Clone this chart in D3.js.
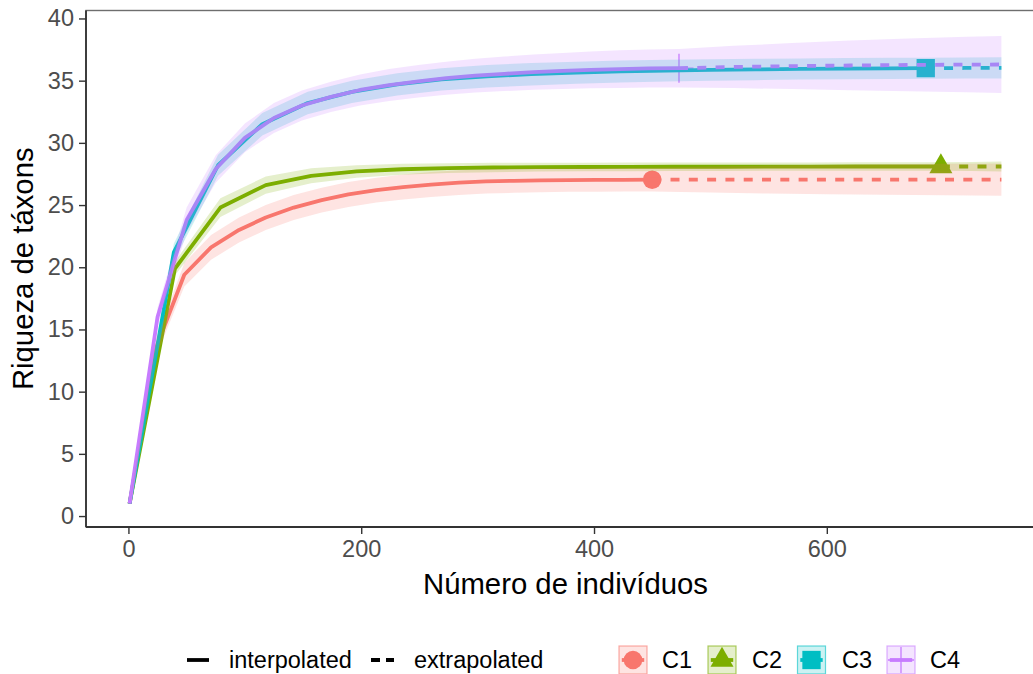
<!DOCTYPE html>
<html>
<head>
<meta charset="utf-8">
<script src="https://cdn.jsdelivr.net/npm/d3@7"></script>
<style>
  html, body { margin: 0; padding: 0; background: #fff; }
  svg { display: block; font-family: "Liberation Sans", Arial, sans-serif; }
</style>
</head>
<body>
<svg id="chart" width="1033" height="674"></svg>
<script>
// Rarefaction / extrapolation curves of taxon richness per site
const sites = ["C1", "C2", "C3", "C4"];
const sampleSize = [450, 698, 685, 473];
const observedRichness = [27.04, 28.1, 36.0, 36.0];

const c1Size     = [1, 24, 48, 71, 95, 118, 142, 166, 189, 213, 236, 260, 284, 307, 331, 354, 378, 402, 425, 450, 500, 550, 600, 650, 700, 750];
const c1Richness = [1, 13.6, 19.4, 21.6, 23.0, 24.0, 24.8, 25.4, 25.85, 26.2, 26.45, 26.65, 26.8, 26.9, 26.95, 26.99, 27.01, 27.02, 27.03, 27.04, 27.05, 27.05, 27.05, 27.05, 27.05, 27.05];
const c1Lower    = [1, 12.9, 18.45, 20.6, 22.0, 23.0, 23.8, 24.4, 24.85, 25.2, 25.45, 25.65, 25.8, 25.92, 25.98, 26.03, 26.06, 26.07, 26.08, 26.09, 26.0, 25.93, 25.87, 25.82, 25.78, 25.75];
const c1Upper    = [1, 14.3, 20.35, 22.6, 24.0, 25.0, 25.8, 26.4, 26.85, 27.2, 27.45, 27.65, 27.8, 27.88, 27.92, 27.95, 27.96, 27.97, 27.98, 27.99, 28.1, 28.17, 28.23, 28.28, 28.32, 28.35];

const c2Size     = [1, 40, 79, 118, 157, 196, 235, 274, 313, 352, 391, 430, 469, 508, 547, 586, 625, 664, 698, 724, 750];
const c2Richness = [1, 19.9, 24.8, 26.6, 27.35, 27.7, 27.88, 27.97, 28.02, 28.05, 28.06, 28.07, 28.08, 28.08, 28.09, 28.09, 28.1, 28.1, 28.1, 28.1, 28.1];
const c2Lower    = [1, 19.35, 24.05, 25.9, 26.75, 27.2, 27.43, 27.57, 27.64, 27.69, 27.71, 27.72, 27.74, 27.74, 27.75, 27.75, 27.76, 27.76, 27.76, 27.73, 27.7];
const c2Upper    = [1, 20.45, 25.55, 27.3, 27.95, 28.2, 28.33, 28.37, 28.4, 28.41, 28.41, 28.42, 28.42, 28.42, 28.43, 28.43, 28.44, 28.44, 28.44, 28.47, 28.5];

const c3Size     = [1, 39, 77, 115, 154, 192, 231, 269, 308, 346, 385, 423, 462, 500, 539, 577, 616, 654, 685, 718, 750];
const c3Richness = [1, 21.2, 28.2, 31.5, 33.2, 34.1, 34.7, 35.1, 35.35, 35.52, 35.64, 35.74, 35.81, 35.86, 35.9, 35.94, 35.97, 35.99, 36.0, 36.02, 36.03];
const c3Lower    = [1, 20.5, 27.35, 30.6, 32.3, 33.2, 33.8, 34.2, 34.45, 34.62, 34.76, 34.86, 34.94, 35.0, 35.04, 35.09, 35.12, 35.14, 35.15, 35.17, 35.18];
const c3Upper    = [1, 21.9, 29.05, 32.4, 34.1, 35.0, 35.6, 36.0, 36.25, 36.42, 36.52, 36.62, 36.68, 36.72, 36.76, 36.79, 36.82, 36.84, 36.85, 36.87, 36.88];

const c4Size     = [1, 25, 50, 75, 100, 125, 149, 174, 199, 224, 249, 273, 298, 323, 348, 373, 397, 422, 447, 473, 520, 570, 620, 670, 720, 750];
const c4Richness = [1, 16.0, 23.8, 27.9, 30.4, 32.0, 33.0, 33.7, 34.25, 34.65, 34.95, 35.2, 35.4, 35.55, 35.68, 35.78, 35.86, 35.93, 35.98, 36.0, 36.1, 36.17, 36.22, 36.26, 36.29, 36.3];
const c4Lower    = [1, 15.25, 22.8, 26.8, 29.25, 30.8, 31.8, 32.48, 33.0, 33.37, 33.65, 33.87, 34.04, 34.16, 34.26, 34.33, 34.38, 34.42, 34.45, 34.45, 34.4, 34.32, 34.22, 34.14, 34.06, 34.0];
const c4Upper    = [1, 16.75, 24.8, 29.0, 31.55, 33.2, 34.2, 34.92, 35.5, 35.93, 36.25, 36.53, 36.76, 36.94, 37.1, 37.23, 37.34, 37.44, 37.51, 37.55, 37.8, 38.02, 38.22, 38.38, 38.52, 38.6];

const xTicks = [0, 200, 400, 600];
const yTicks = [0, 5, 10, 15, 20, 25, 30, 35, 40];
const methodLabels = ["interpolated", "extrapolated"];
const xTitle = "Número de indivíduos";
const yTitle = "Riqueza de táxons";

const palette = ["#F8766D", "#7CAE00", "#00BFC4", "#C77CFF"];
const shapes = ["circle", "triangle", "square", "plus"];

const seriesTable = [
  [c1Size, c1Richness, c1Lower, c1Upper],
  [c2Size, c2Richness, c2Lower, c2Upper],
  [c3Size, c3Richness, c3Lower, c3Upper],
  [c4Size, c4Richness, c4Lower, c4Upper]
].map(([m, q, lo, hi], i) => ({
  site: sites[i],
  n: sampleSize[i],
  obs: observedRichness[i],
  color: palette[i],
  shape: shapes[i],
  points: m.map((v, k) => ({ m: v, q: q[k], lo: lo[k], hi: hi[k] }))
}));

const svg = d3.select("#chart");
const panel = { left: 86, right: 1045, top: 10.5, bottom: 527 };

const x = d3.scaleLinear().domain([-36.45, 787.45]).range([panel.left, panel.right]);
const y = d3.scaleLinear().domain([-0.88, 40.64]).range([panel.bottom, panel.top]);

svg.append("defs").append("clipPath").attr("id", "panelClip")
  .append("rect")
  .attr("x", panel.left).attr("y", panel.top)
  .attr("width", panel.right - panel.left).attr("height", panel.bottom - panel.top);

const plot = svg.append("g").attr("clip-path", "url(#panelClip)");

// marker drawing
function drawMarker(g, shape, cx, cy, color, scale) {
  const s = scale || 1;
  if (shape === "circle") {
    g.append("circle").attr("cx", cx).attr("cy", cy).attr("r", 9.3 * s).attr("fill", color);
  } else if (shape === "triangle") {
    g.append("path").attr("transform", `translate(${cx},${cy})`)
      .attr("d", d3.symbol(d3.symbolTriangle, 229 * s * s)()).attr("fill", color);
  } else if (shape === "square") {
    g.append("path").attr("transform", `translate(${cx},${cy})`)
      .attr("d", d3.symbol(d3.symbolSquare, 335 * s * s)()).attr("fill", color);
  } else {
    const h = 14.5 * s;
    g.append("path").attr("d", `M${cx - h},${cy}H${cx + h}M${cx},${cy - h}V${cy + h}`)
      .attr("stroke", color).attr("stroke-width", 1.3).attr("fill", "none");
  }
}

// points at the observed sample size
seriesTable.forEach(s => {
  drawMarker(plot, s.shape, x(s.n), y(s.obs), s.color);
});

// interpolated (solid) and extrapolated (dashed) curves
const line = d3.line().x(d => x(d.m)).y(d => y(d.q));
seriesTable.forEach(s => {
  const interp = s.points.filter(d => d.m <= s.n);
  const extrap = s.points.filter(d => d.m >= s.n);
  plot.append("path").datum(interp).attr("d", line)
    .attr("fill", "none").attr("stroke", s.color).attr("stroke-width", 3.8)
    .attr("stroke-linejoin", "round");
  plot.append("path").datum(extrap).attr("d", line)
    .attr("fill", "none").attr("stroke", s.color).attr("stroke-width", 3.8)
    .attr("stroke-dasharray", "9,9.3");
});

// confidence bands
const area = d3.area().x(d => x(d.m)).y0(d => y(d.lo)).y1(d => y(d.hi));
seriesTable.forEach(s => {
  plot.append("path").datum(s.points).attr("d", area)
    .attr("fill", s.color).attr("fill-opacity", 0.2).attr("stroke", "none");
});

// panel frame
svg.append("rect")
  .attr("x", panel.left).attr("y", panel.top)
  .attr("width", panel.right - panel.left).attr("height", panel.bottom - panel.top)
  .attr("fill", "none").attr("stroke", "#6e6e6e").attr("stroke-width", 1.4);

// axes
const xAxis = d3.axisBottom(x).tickValues(xTicks).tickSize(7).tickPadding(6);
const yAxis = d3.axisLeft(y).tickValues(yTicks).tickSize(7).tickPadding(5);

const gx = svg.append("g").attr("transform", `translate(0,${panel.bottom})`).call(xAxis);
const gy = svg.append("g").attr("transform", `translate(${panel.left},0)`).call(yAxis);

[gx, gy].forEach(g => {
  g.select(".domain").attr("stroke", "#333").attr("stroke-width", 1.8);
  g.selectAll(".tick line").attr("stroke", "#333").attr("stroke-width", 1.4);
  g.selectAll(".tick text")
    .attr("fill", "#4D4D4D")
    .style("font-size", "23.5px")
    .style("font-family", "'Liberation Sans', Arial, sans-serif");
});
// keep domain lines only along the panel edges
gx.select(".domain").attr("d", `M${panel.left},0H${panel.right}`);
gy.select(".domain").attr("d", `M0,${panel.top}V${panel.bottom}`);

// axis titles
svg.append("text")
  .attr("x", (panel.left + panel.right) / 2).attr("y", 594)
  .attr("text-anchor", "middle")
  .style("font-size", "29.3px").attr("fill", "#000")
  .text(xTitle);

svg.append("text")
  .attr("transform", `translate(33,${(panel.top + panel.bottom) / 2}) rotate(-90)`)
  .attr("text-anchor", "middle")
  .style("font-size", "29.3px").attr("fill", "#000")
  .text(yTitle);

// legend
const legend = svg.append("g");
const legendY = 660;
const legendFont = "23.5px";

// linetype keys
const ltKeys = [
  { x0: 187, x1: 209, dash: null, tx: 229 },
  { x0: 371, x1: 394, dash: "9,6", tx: 414 }
];
ltKeys.forEach((k, i) => {
  const p = legend.append("line")
    .attr("x1", k.x0).attr("x2", k.x1).attr("y1", legendY).attr("y2", legendY)
    .attr("stroke", "#000").attr("stroke-width", 3.8);
  if (k.dash) p.attr("stroke-dasharray", k.dash);
  legend.append("text").attr("x", k.tx).attr("y", legendY + 8.3)
    .style("font-size", legendFont).attr("fill", "#000").text(methodLabels[i]);
});

// site keys
const siteKeyX = [619, 708, 797.5, 887];
const siteTextX = [662, 752, 842, 930];
seriesTable.forEach((s, i) => {
  const kx = siteKeyX[i], ky = legendY - 14, ks = 28;
  const g = legend.append("g");
  g.append("line").attr("x1", kx + 2.8).attr("x2", kx + ks - 2.8)
    .attr("y1", legendY).attr("y2", legendY)
    .attr("stroke", s.color).attr("stroke-width", 3.8);
  drawMarker(g, s.shape, kx + ks / 2, legendY, s.color, s.shape === "plus" ? 0.9 : 1);
  g.append("rect").attr("x", kx).attr("y", ky).attr("width", ks).attr("height", ks)
    .attr("fill", s.color).attr("fill-opacity", 0.2)
    .attr("stroke", s.color).attr("stroke-opacity", 0.6).attr("stroke-width", 1.2);
  legend.append("text").attr("x", siteTextX[i]).attr("y", legendY + 8.3)
    .style("font-size", legendFont).attr("fill", "#000").text(s.site);
});
</script>
</body>
</html>
